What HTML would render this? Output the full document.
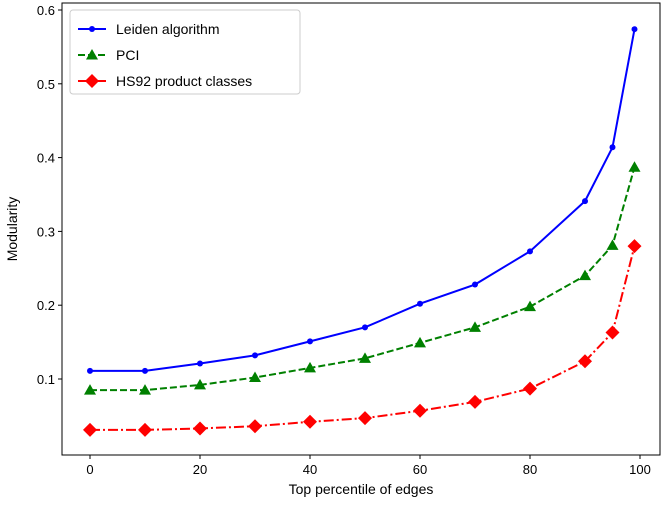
<!DOCTYPE html>
<html><head><meta charset="utf-8"><style>
body{margin:0;background:#fff;font-family:"Liberation Sans",Arial,sans-serif}
svg text{font-family:"Liberation Sans",Arial,sans-serif;fill:#000}
</style></head><body>
<svg id="chart" width="666" height="501" viewBox="0 0 666 501"></svg>
<script>
const xValues=[0,10,20,30,40,50,60,70,80,90,95,99];
const leiden=[0.111,0.111,0.121,0.132,0.151,0.170,0.202,0.228,0.273,0.341,0.414,0.574];
const pci=[0.085,0.085,0.092,0.102,0.115,0.128,0.149,0.170,0.198,0.240,0.281,0.387];
const hs92=[0.031,0.031,0.033,0.036,0.042,0.047,0.057,0.069,0.087,0.124,0.163,0.280];
const xTicks=[0,20,40,60,80,100];
const yTicks=[0.1,0.2,0.3,0.4,0.5,0.6];
const NS="http://www.w3.org/2000/svg";
const svg=document.getElementById('chart');
const L=62,R=660,T=3,B=455;
const sx=v=>90+v*5.5;
const sy=v=>379-(v-0.1)*738;
function mk(tag,attrs,parent){const e=document.createElementNS(NS,tag);for(const k in attrs)e.setAttribute(k,attrs[k]);(parent||svg).appendChild(e);return e;}
const frame=mk('rect',{x:L,y:T,width:R-L,height:B-T,fill:'none',stroke:'#000','stroke-width':1});


xTicks.forEach(t=>{
  const l=mk('line',{x1:sx(t),x2:sx(t),y1:B,y2:B+4,stroke:'#000'});
  
  
  const tx=mk('text',{x:sx(t),y:B+19,'text-anchor':'middle','font-size':13});
  tx.textContent=t;
  
  
});
yTicks.forEach(t=>{
  const l=mk('line',{x1:L-4,x2:L,y1:sy(t),y2:sy(t),stroke:'#000'});
  
  
  const tx=mk('text',{x:L-7,y:sy(t)+5,'text-anchor':'end','font-size':13});
  tx.textContent=t.toFixed(1);
  
  
});
const xt=mk('text',{x:(L+R)/2,y:494,'text-anchor':'middle','font-size':14});
xt.textContent='Top percentile of edges';


const yt=mk('text',{x:0,y:0,'text-anchor':'middle','font-size':14,transform:`translate(17,${(T+B)/2}) rotate(-90)`});
yt.textContent='Modularity';


function marker(type,x,y,color,g){
  if(type==='o')return mk('circle',{cx:x,cy:y,r:3,fill:color},g);
  if(type==='^')return mk('polygon',{points:`${x},${y-6} ${x-6},${y+4.5} ${x+6},${y+4.5}`,fill:color},g);
  return mk('polygon',{points:`${x},${y-7} ${x+7},${y} ${x},${y+7} ${x-7},${y}`,fill:color},g);
}
const series=[
  {name:'leiden-series',vals:leiden,color:'#0000ff',dash:'',m:'o'},
  {name:'pci-series',vals:pci,color:'#008000',dash:'7,3',m:'^'},
  {name:'hs92-series',vals:hs92,color:'#ff0000',dash:'10,3,2,3',m:'d'}
];
series.forEach(s=>{
  const g=mk('g',{});
  
  
  const p=mk('polyline',{points:xValues.map((x,i)=>sx(x)+','+sy(s.vals[i])).join(' '),fill:'none',stroke:s.color,'stroke-width':2,'stroke-dasharray':s.dash},g);
  
  
  xValues.forEach((x,i)=>{
    const m=marker(s.m,sx(x),sy(s.vals[i]),s.color,g);
    
    
  });
});
const lg=mk('g',{});


mk('rect',{x:70,y:10,width:230,height:84,rx:3,fill:'#fff',stroke:'#ccc'},lg);
const labels=['Leiden algorithm','PCI','HS92 product classes'];
series.forEach((s,i)=>{
  const y=29+i*26;
  const e=mk('g',{},lg);
  
  
  mk('line',{x1:78,x2:106,y1:y,y2:y,stroke:s.color,'stroke-width':2,'stroke-dasharray':s.dash},e);
  marker(s.m,92,y,s.color,e);
  const t=mk('text',{x:116,y:y+5,'font-size':14},e);
  t.textContent=labels[i];
});
</script>
</body></html>
